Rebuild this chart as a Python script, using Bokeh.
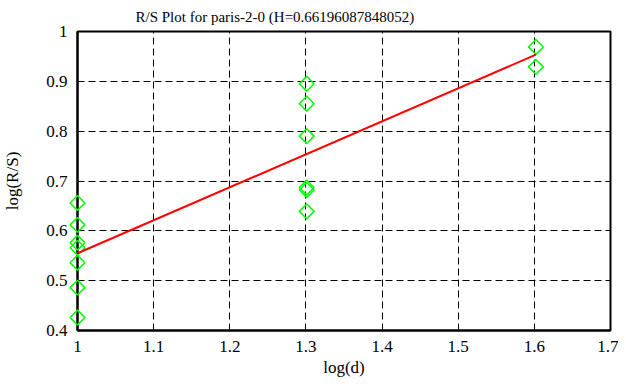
import numpy as np
from bokeh.plotting import figure
from bokeh.models import FixedTicker, Range1d
from bokeh.embed import file_html
from bokeh.resources import INLINE

title_text = "R/S Plot for paris-2-0 (H=0.66196087848052)"
log_d = [1.0, 1.0, 1.0, 1.0, 1.0, 1.0, 1.0,
         1.30103, 1.30103, 1.30103, 1.30103, 1.30103, 1.30103,
         1.60206, 1.60206]
log_rs = [0.656, 0.612, 0.576, 0.566, 0.536, 0.486, 0.426,
          0.895, 0.855, 0.790, 0.687, 0.682, 0.639,
          0.969, 0.929]
H = 0.66196087848052
intercept = 0.555
fit_x = [1.0, 1.60206]
x_ticks = [1.0, 1.1, 1.2, 1.3, 1.4, 1.5, 1.6, 1.7]
y_ticks = [0.4, 0.5, 0.6, 0.7, 0.8, 0.9, 1.0]
x_tick_labels = ["1", "1.1", "1.2", "1.3", "1.4", "1.5", "1.6", "1.7"]
y_tick_labels = ["0.4", "0.5", "0.6", "0.7", "0.8", "0.9", "1"]
x_label = "log(d)"
y_label = "log(R/S)"

FONT = "Liberation Serif"

p = figure(width=618, height=379, output_backend="svg", toolbar_location=None,
           x_range=Range1d(1.0, 1.7), y_range=Range1d(0.4, 1.0),
           min_border_left=72, min_border_right=8, min_border_top=31,
           min_border_bottom=48, x_axis_label=x_label, y_axis_label=y_label)
p.background_fill_color = "white"
p.border_fill_color = "white"
p.outline_line_color = "black"
p.outline_line_width = 2

p.title.text = title_text
p.title.align = "left"
p.title.offset = 58
p.title.vertical_align = "bottom"
p.title.standoff = 13
p.title.text_font = FONT
p.title.text_font_size = "15px"
p.title.text_font_style = "normal"
p.title.text_color = "black"

xt = FixedTicker(ticks=x_ticks)
yt = FixedTicker(ticks=y_ticks)
p.xaxis.ticker = xt
p.yaxis.ticker = yt
p.xaxis.major_label_overrides = dict(zip(x_ticks, x_tick_labels))
p.yaxis.major_label_overrides = dict(zip(y_ticks, y_tick_labels))

for ax in (p.xaxis[0], p.yaxis[0]):
    ax.major_tick_in = 6
    ax.major_tick_out = 0
    ax.minor_tick_line_color = None
    ax.axis_line_color = "black"
    ax.axis_line_width = 2
    ax.major_tick_line_color = "black"
    ax.major_tick_line_width = 1
    ax.major_label_text_font = FONT
    ax.major_label_text_font_size = "17px"
    ax.major_label_text_color = "black"
    ax.axis_label_text_font = FONT
    ax.axis_label_text_font_size = "17px"
    ax.axis_label_text_font_style = "normal"
    ax.axis_label_text_color = "black"

p.xaxis.major_label_standoff = 10
p.yaxis.major_label_standoff = 10
p.xaxis.axis_label_standoff = 3
p.yaxis.axis_label_standoff = 21
p.yaxis.major_label_orientation = "horizontal"

p.xgrid.ticker = xt
p.ygrid.ticker = yt
for g in (p.xgrid[0], p.ygrid[0]):
    g.grid_line_color = "black"
    g.grid_line_dash = "7 4"
    g.grid_line_width = 1

pts = p.scatter(log_d, log_rs, marker="square", angle=np.pi / 4, size=10.5,
                fill_color=None, line_color="#00ff00", line_width=1.5)
pts.level = "overlay"
fit_y = [intercept + H * (x - 1.0) for x in fit_x]
ln = p.line(fit_x, fit_y, line_color="red", line_width=2)
ln.level = "overlay"

open("out.html", "w").write(file_html(p, INLINE))
